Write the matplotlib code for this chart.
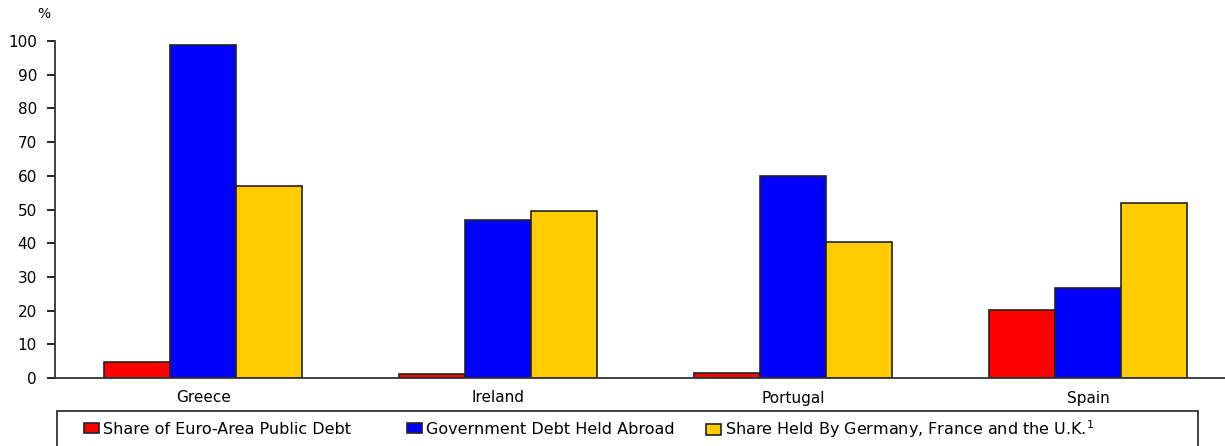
import numpy as np
import matplotlib
matplotlib.use("Agg")
import matplotlib.pyplot as plt
from matplotlib.patches import Rectangle

countries = ["Greece", "Ireland", "Portugal", "Spain"]
euro_share = [4.8, 1.2, 1.5, 20.2]
held_abroad = [98.8, 46.9, 60.0, 26.7]
big3_share = [57.0, 49.6, 40.4, 52.0]

series = [euro_share, held_abroad, big3_share]
labels = ["Share of Euro-Area Public Debt",
          "Government Debt Held Abroad",
          "Share Held By Germany, France and the U.K.$^{1}$"]
colors = ["#ff0000", "#0000ff", "#ffcc00"]

plt.rcParams["font.family"] = ["DejaVu Sans"]

W, H = 1225, 446
fig = plt.figure(figsize=(W / 100, H / 100), dpi=100)
ax = fig.add_axes([55 / W, (H - 378) / H, (W - 55) / W, (378 - 41) / H])

x = np.arange(len(countries))
bw = 0.224
bars = []
for k, (vals, lab, col) in enumerate(zip(series, labels, colors)):
    b = ax.bar(x + (k - 1) * bw, vals, bw, color=col, edgecolor="#222222",
               linewidth=1.2, label=lab, zorder=2)
    bars.append(b)

ax.set_xlim(-0.502, 3.464)
ax.set_ylim(0, 100)
ax.set_yticks(range(0, 101, 10))
ax.set_xticks(x)
ax.set_xticklabels(countries)
ax.tick_params(axis="y", direction="out", length=6, width=1.2, labelsize=11, pad=7)
ax.tick_params(axis="x", length=0, labelsize=11, pad=9)
for s in ["top", "right"]:
    ax.spines[s].set_visible(False)
for s in ["left", "bottom"]:
    ax.spines[s].set_linewidth(1.3)
    ax.spines[s].set_color("#333333")

fig.text(44 / W, 1 - 14 / H, "%", fontsize=10, ha="center", va="center")

# legend box under the axes, one entry per series at fixed spots
fig.patches.append(Rectangle((57 / W, -0.01), (1198 - 57) / W, (H - 411) / H + 0.01,
                             transform=fig.transFigure, fill=False,
                             edgecolor="#333333", linewidth=1.3))
entry_x = [84, 407, 706]
for b, lab, ex in zip(bars, labels, entry_x):
    fig.legend([b], [lab], loc="center left",
               bbox_to_anchor=(ex / W, (H - 429) / H),
               frameon=False, fontsize=11.5, handlelength=0.95,
               handleheight=0.65, handletextpad=0.25,
               borderaxespad=0, borderpad=0)

fig.savefig("out.png", dpi=100)
